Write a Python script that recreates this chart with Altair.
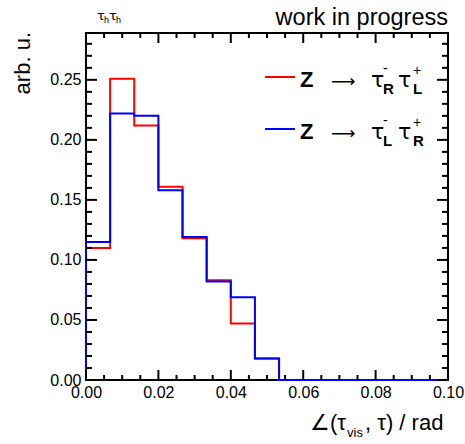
import altair as alt
import pandas as pd

# Histogram binning: 15 equal bins on [0, 0.1]
n_bins = 15
x_max = 0.1
edges = [i * x_max / n_bins for i in range(n_bins + 1)]

# Normalised bin contents (arb. u.)
red_vals = [0.110, 0.251, 0.212, 0.161, 0.118, 0.083, 0.047, 0.018,
            0.0, 0.0, 0.0, 0.0, 0.0, 0.0, 0.0]
blue_vals = [0.115, 0.222, 0.220, 0.158, 0.119, 0.082, 0.069, 0.018,
             0.0, 0.0, 0.0, 0.0, 0.0, 0.0, 0.0]

# Axis ticks (ROOT style, drawn inside the frame on all four sides)
x_major = [0.0, 0.02, 0.04, 0.06, 0.08, 0.10]
x_minor = [round(i * 0.005, 4) for i in range(21) if i % 4]
y_major = [0.0, 0.05, 0.10, 0.15, 0.20, 0.25]
y_minor = [round(i * 0.01, 2) for i in range(29) if i % 5]

y_top = 0.289
W, H = 362, 347
FONT = "Liberation Sans"
GREEK = "DejaVu Sans"

xs = alt.Scale(domain=[0, x_max], nice=False, zero=False)
ys = alt.Scale(domain=[0, y_top], nice=False, zero=False)


def step_frame(vals):
    pts = [(0.0, 0.0)] + [(edges[i], v) for i, v in enumerate(vals)] + [(x_max, 0.0)]
    return pd.DataFrame({"x": [p[0] for p in pts], "y": [p[1] for p in pts],
                         "idx": list(range(len(pts)))})


def hist(vals, color):
    return alt.Chart(step_frame(vals)).mark_line(
        interpolate="step-after", color=color, strokeWidth=2
    ).encode(
        x=alt.X("x:Q", scale=xs,
                axis=alt.Axis(values=x_major, format=".2f", ticks=False, domain=False,
                              grid=False, labelFont=FONT, labelFontSize=16,
                              labelColor="black", labelPadding=4, labelFlush=False,
                              labelOverlap=False, title=None)),
        y=alt.Y("y:Q", scale=ys,
                axis=alt.Axis(values=y_major, format=".2f", ticks=False, domain=False,
                              grid=False, labelFont=FONT, labelFontSize=16,
                              labelColor="black", labelPadding=5, labelFlush=False,
                              labelOverlap=False, title=None)),
        order="idx:Q",
    )


def xticks(vals, length, top):
    y0, y1 = (0, length) if top else (H, H - length)
    return alt.Chart(pd.DataFrame({"v": vals})).mark_rule(
        color="black", strokeWidth=2).encode(
        x=alt.X("v:Q", scale=xs), y=alt.value(y0), y2=alt.value(y1))


def yticks(vals, length, right):
    x0, x1 = (W, W - length) if right else (0, length)
    return alt.Chart(pd.DataFrame({"v": vals})).mark_rule(
        color="black", strokeWidth=2).encode(
        y=alt.Y("v:Q", scale=ys), x=alt.value(x0), x2=alt.value(x1))


def txt(s, x, y, size, align="left", weight="normal", baseline="alphabetic",
        angle=0, font=FONT, color="black"):
    kw = dict(text=s, align=align, fontSize=size, fontWeight=weight,
              baseline=baseline, font=font, color=color)
    if angle:
        kw["angle"] = angle
    return alt.Chart(pd.DataFrame({"a": [0]})).mark_text(**kw).encode(
        x=alt.value(x), y=alt.value(y))


def legend_row(color, sub1, sub2, dy):
    line = alt.Chart(pd.DataFrame({"a": [0]})).mark_rule(
        color=color, strokeWidth=2).encode(
        x=alt.value(179), x2=alt.value(209), y=alt.value(44 + dy))
    parts = [
        line,
        txt("Z", 214, 54 + dy, 22, weight="bold"),
        txt("\u27f6", 245, 54 + dy, 17, font=GREEK),
        txt("\u03c4", 285, 54 + dy, 22, font=GREEK),
        txt("-", 297, 40 + dy, 14),
        txt(sub1, 297, 61 + dy, 15, weight="bold"),
        txt("\u03c4", 312, 54 + dy, 22, font=GREEK),
        txt("+", 327, 42 + dy, 14),
        txt(sub2, 327, 61 + dy, 15, weight="bold"),
    ]
    return parts


layers = [
    hist(red_vals, "#ff0000"),
    hist(blue_vals, "#0000ff"),
    xticks(x_major, 10, False), xticks(x_minor, 5, False),
    xticks(x_major, 10, True), xticks(x_minor, 5, True),
    yticks(y_major, 11, False), yticks(y_minor, 6, False),
    yticks(y_major, 11, True), yticks(y_minor, 6, True),
    # labels around the frame
    txt("work in progress", 362, -8, 23.5, align="right"),
    txt("\u03c4", 11, -13, 13, font=GREEK), txt("h", 18, -10, 9),
    txt("\u03c4", 23, -13, 13, font=GREEK), txt("h", 30, -10, 9),
    txt("arb. u.", -56, -1, 22, align="right", angle=270),
    txt("\u2220(\u03c4", 260, 397, 22, align="right"),
    txt("vis", 261, 404, 13),
    txt(", \u03c4) / rad", 279, 397, 22),
]
layers += legend_row("#ff0000", "R", "L", 0)
layers += legend_row("#0000ff", "L", "R", 52)

chart = alt.layer(*layers).properties(
    width=W, height=H,
    autosize=alt.AutoSizeParams(type="none"),
    padding={"left": 86, "top": 33, "right": 17, "bottom": 64},
    background="white",
).configure_view(stroke="black", strokeWidth=2)

chart.save("out.html", embed_options={"renderer": "svg", "actions": False})
